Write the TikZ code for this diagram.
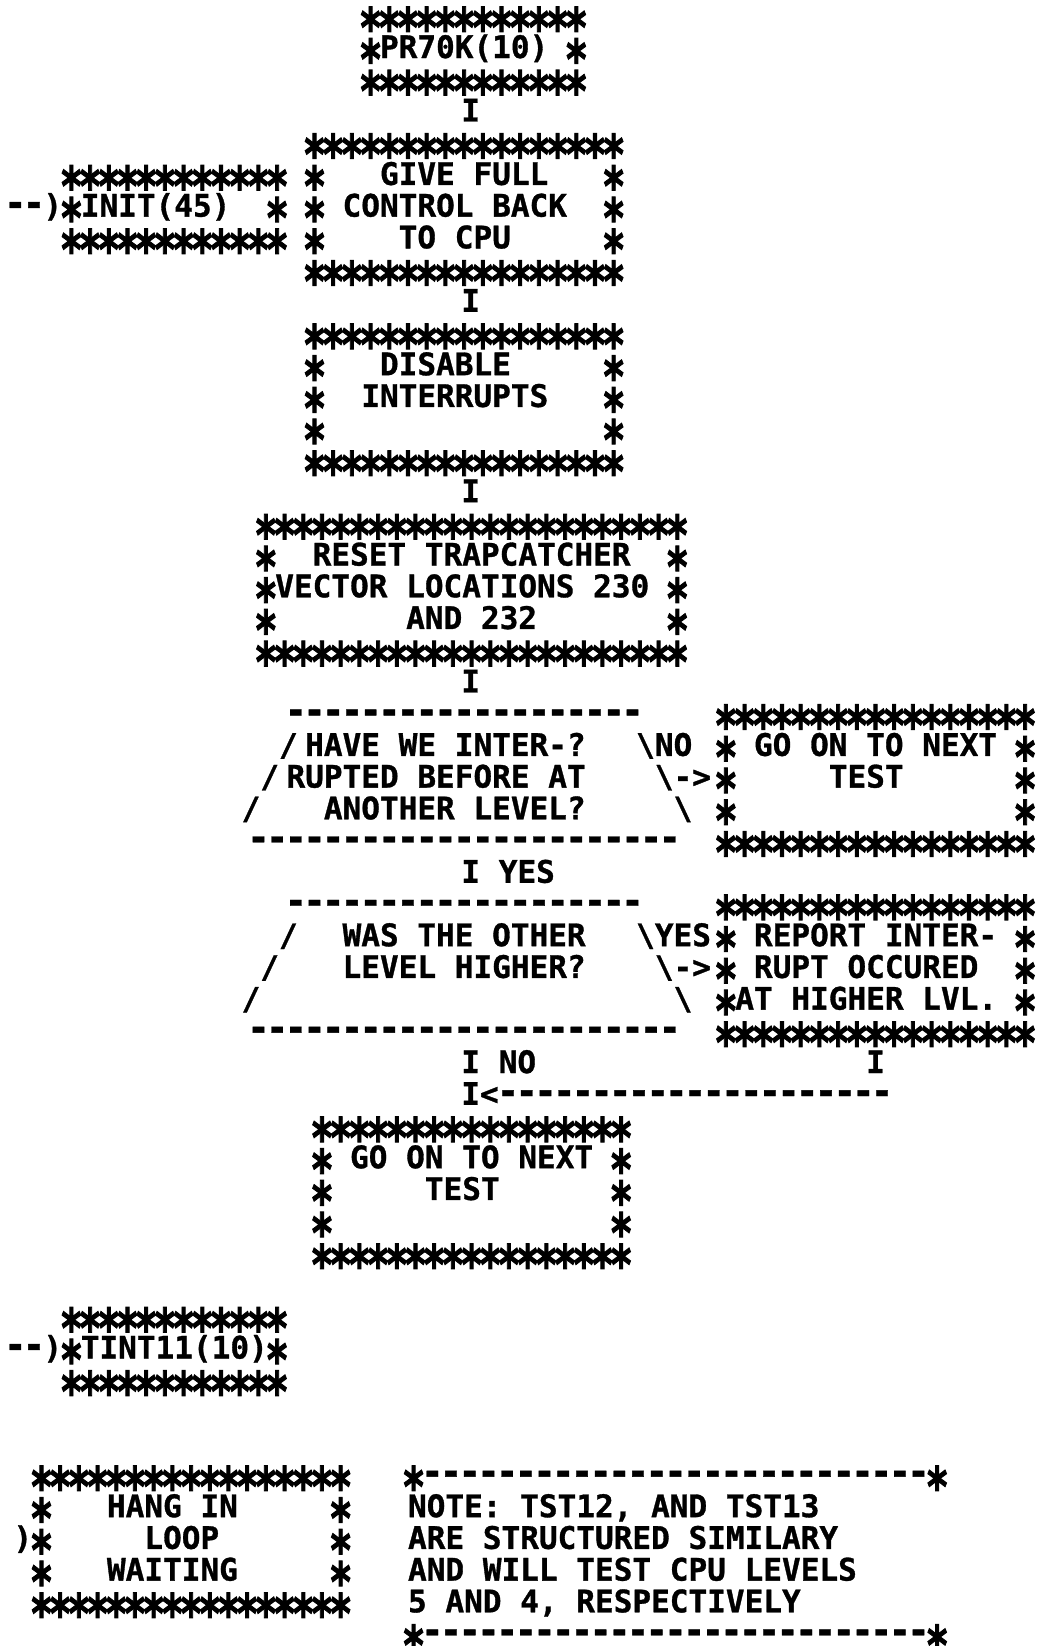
\documentclass[tikz,border=0pt]{standalone}
\usepackage{graphicx}
\usepackage{fontspec}
\setmonofont{DejaVu Sans Mono}
\newfontfamily\txtfnt{DejaVu Sans Mono Bold}[FakeBold=1]
\newfontfamily\starfnt{DejaVu Sans Mono Bold}[FakeBold=2]
\newlength\pitch
\setlength\pitch{9.35pt}
\newcommand\sta{\makebox[\pitch][c]{\raisebox{-10.3pt}[11pt][0pt]{\scalebox{1.25}[1.75]{\starfnt *}}}}
\newcommand\dsh{\makebox[\pitch][c]{\scalebox{1.18}[1.3]{-}}}
\newcommand\stars[1]{\foreach\k in {1,...,#1}{\sta}}
\newcommand\dashes[1]{\foreach\k in {1,...,#1}{\dsh}}
\newcommand\bs{\textbackslash}
% \rw[shift]{col}{row}{text}
\newcommand\rw[4][0]{\node[tx] (r#3c#2) at ({6+18.7*(#2+#1)},{26.3+31.72*((#3)-1)}) {#4};}
\begin{document}
\begin{tikzpicture}[x=0.5pt,y=-0.5pt,
  tx/.style={anchor=base west, inner sep=0pt, outer sep=0pt,
    font=\fontsize{15.53pt}{15.53pt}\txtfnt}]
\fill[white] (0,0) rectangle (1038,1646);
\useasboundingbox (0,0) rectangle (1038,1646);
% PR70K entry box
\rw{19}{1}{\stars{12}}
\rw{19}{2}{\sta PR70K(10) \sta}
\rw{19}{3}{\stars{12}}
\rw[0.35]{24}{4}{I}
% give full control back
\rw{16}{5}{\stars{17}}
\rw{3}{6}{\stars{12}} \rw{16}{6}{\sta} \rw{20}{6}{GIVE FULL} \rw{32}{6}{\sta}
\rw{0}{7}{\dsh\dsh)\sta INIT(45)} \rw{14}{7}{\sta} \rw{16}{7}{\sta} \rw{18}{7}{CONTROL BACK} \rw{32}{7}{\sta}
\rw{3}{8}{\stars{12}} \rw{16}{8}{\sta} \rw{21}{8}{TO CPU} \rw{32}{8}{\sta}
\rw{16}{9}{\stars{17}}
\rw[0.35]{24}{10}{I}
% disable interrupts
\rw{16}{11}{\stars{17}}
\rw{16}{12}{\sta} \rw{20}{12}{DISABLE} \rw{32}{12}{\sta}
\rw{16}{13}{\sta} \rw{19}{13}{INTERRUPTS} \rw{32}{13}{\sta}
\rw{16}{14}{\sta} \rw{32}{14}{\sta}
\rw{16}{15}{\stars{17}}
\rw[0.35]{24}{16}{I}
% reset trapcatcher
\rw[0.4]{13}{17}{\stars{23}}
\rw[0.4]{13}{18}{\sta} \rw[0.4]{16}{18}{RESET TRAPCATCHER} \rw[0.4]{35}{18}{\sta}
\rw[0.4]{13}{19}{\sta VECTOR LOCATIONS 230} \rw[0.4]{35}{19}{\sta}
\rw[0.4]{13}{20}{\sta} \rw[0.4]{21}{20}{AND 232} \rw[0.4]{35}{20}{\sta}
\rw[0.4]{13}{21}{\stars{23}}
\rw[0.35]{24}{22}{I}
% decision 1
\rw{15}{23}{\dashes{19}} \rw{38}{23}{\stars{17}}
\rw[-0.4]{15}{24}{/} \rw{16}{24}{HAVE WE INTER-?} \rw[-0.3]{34}{24}{\bs NO} \rw{38}{24}{\sta\ GO ON TO NEXT \sta}
\rw[-0.4]{14}{25}{/} \rw{15}{25}{RUPTED BEFORE AT} \rw[-0.3]{35}{25}{\bs-{}>}\rw{38}{25}{\sta} \rw{44}{25}{TEST} \rw{54}{25}{\sta}
\rw[-0.4]{13}{26}{/} \rw{17}{26}{ANOTHER LEVEL?} \rw[-0.3]{36}{26}{\bs} \rw{38}{26}{\sta} \rw{54}{26}{\sta}
\rw{13}{27}{\dashes{23}} \rw{38}{27}{\stars{17}}
\rw[0.35]{24}{28}{I YES}
% decision 2
\rw{15}{29}{\dashes{19}} \rw{38}{29}{\stars{17}}
\rw[-0.4]{15}{30}{/} \rw{18}{30}{WAS THE OTHER} \rw[-0.3]{34}{30}{\bs YES}\rw{38}{30}{\sta\ REPORT INTER- \sta}
\rw[-0.4]{14}{31}{/} \rw{18}{31}{LEVEL HIGHER?} \rw[-0.3]{35}{31}{\bs-{}>}\rw{38}{31}{\sta\ RUPT OCCURED} \rw{54}{31}{\sta}
\rw[-0.4]{13}{32}{/} \rw[-0.3]{36}{32}{\bs} \rw{38}{32}{\sta AT HIGHER LVL. \sta}
\rw{13}{33}{\dashes{23}} \rw{38}{33}{\stars{17}}
\rw[0.35]{24}{34}{I NO} \rw{46}{34}{I}
\rw[0.35]{24}{35}{I<\dashes{21}}
% go on to next test
\rw[0.4]{16}{36}{\stars{17}}
\rw[0.4]{16}{37}{\sta\ GO ON TO NEXT \sta}
\rw[0.4]{16}{38}{\sta} \rw[0.4]{22}{38}{TEST} \rw[0.4]{32}{38}{\sta}
\rw[0.4]{16}{39}{\sta} \rw[0.4]{32}{39}{\sta}
\rw[0.4]{16}{40}{\stars{17}}
% TINT11 entry
\rw{3}{42}{\stars{12}}
\rw{0}{43}{\dsh\dsh)\sta TINT11(10)\sta}
\rw{3}{44}{\stars{12}}
% hang in loop + note
\rw[0.4]{1}{47}{\stars{17}} \rw[0.3]{21}{47}{\sta\dashes{27}\sta}
\rw[0.4]{1}{48}{\sta} \rw[0.4]{5}{48}{HANG IN} \rw[0.4]{17}{48}{\sta} \rw[-0.5]{22}{48}{NOTE: TST12, AND TST13}
\rw[0.4]{0}{49}{)\sta} \rw[0.4]{7}{49}{LOOP} \rw[0.4]{17}{49}{\sta} \rw[-0.5]{22}{49}{ARE STRUCTURED SIMILARY}
\rw[0.4]{1}{50}{\sta} \rw[0.4]{5}{50}{WAITING} \rw[0.4]{17}{50}{\sta} \rw[-0.5]{22}{50}{AND WILL TEST CPU LEVELS}
\rw[0.4]{1}{51}{\stars{17}} \rw[-0.5]{22}{51}{5 AND 4, RESPECTIVELY}
\rw[0.3]{21}{52}{\sta\dashes{27}\sta}
\end{tikzpicture}
\end{document}
